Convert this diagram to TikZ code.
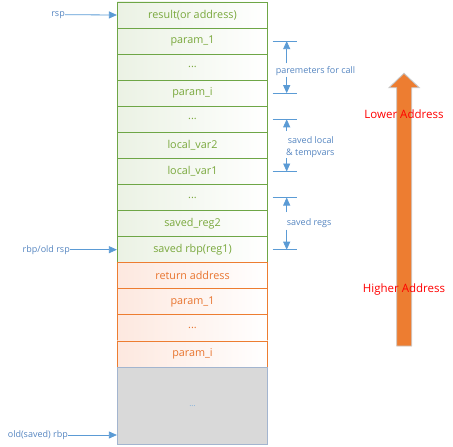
\documentclass[tikz,border=0pt]{standalone}
\usepackage{fontspec}
\setmainfont{Open Sans}
\usetikzlibrary{arrows.meta}
\definecolor{gline}{HTML}{6EA646}
\definecolor{gtext}{HTML}{79A83C}
\definecolor{gfill}{HTML}{EBF2E4}
\definecolor{oline}{HTML}{ED7D31}
\definecolor{otext}{HTML}{E8742E}
\definecolor{ofill}{HTML}{FDE8DF}
\definecolor{bline}{HTML}{5B9BD5}
\definecolor{btext}{HTML}{5585C0}
\definecolor{grayfill}{HTML}{D9D9D9}
\definecolor{grayline}{HTML}{A3B5CF}
\definecolor{bigarrow}{HTML}{ED7D31}
\tikzset{
  row/.style={minimum width=150.4pt, minimum height=26.07pt, inner sep=0pt, font=\fontsize{10.8}{12}\selectfont, line width=0.8pt},
  greenrow/.style={row, draw=gline, text=gtext, left color=gfill, right color=white},
  orangerow/.style={row, draw=oline, text=otext, left color=ofill, right color=white},
  lbl/.style={text=btext, font=\fontsize{9}{10}\selectfont, inner sep=0pt},
  barrow/.style={draw=bline, line width=0.8pt, -{Triangle[length=8pt,width=7pt]}},
  tick/.style={draw=bline, line width=0.8pt},
  redlbl/.style={text=red, font=\fontsize{11.5}{13}\selectfont, inner sep=0pt}
}
\begin{document}
\begin{tikzpicture}[x=1pt,y=-1pt]
\useasboundingbox (0,0) rectangle (453,447);
% green rows
\node[greenrow] (r1) at (192.5,15.0) {result(or address)};
\node[greenrow] (r2) at (192.5,41.1) {param\_1};
\node[greenrow] (r3) at (192.5,67.2) {...};
\node[greenrow] (r4) at (192.5,93.2) {param\_i};
\node[greenrow] (r5) at (192.5,119.3) {...};
\node[greenrow] (r6) at (192.5,145.4) {local\_var2};
\node[greenrow] (r7) at (192.5,171.5) {local\_var1};
\node[greenrow] (r8) at (192.5,197.5) {...};
\node[greenrow] (r9) at (192.5,223.6) {saved\_reg2};
\node[greenrow] (r10) at (192.5,249.7) {saved rbp(reg1)};
% orange rows
\node[orangerow] (r11) at (192.5,275.8) {return address};
\node[orangerow] (r12) at (192.5,301.8) {param\_1};
\node[orangerow] (r13) at (192.5,327.9) {...};
\node[orangerow] (r14) at (192.5,354.0) {param\_i};
% gray block
\node[row, minimum height=77pt, draw=grayline, fill=grayfill, text=bline!80, font=\fontsize{8}{9}\selectfont] (gray) at (192.5,405.6) {...};
% left labels and arrows
\node[lbl, anchor=east] (rsp) at (65,14.7) {rsp};
\draw[barrow] (rsp.east) -- (r1.west);
\node[lbl, anchor=east] (rbp) at (70,249.7) {rbp/old rsp};
\draw[barrow] (rbp.east) -- (r10.west);
\node[lbl, anchor=east] (old) at (68,435) {old(saved) rbp};
\draw[barrow] (old.east) -- (old.east -| gray.west);
% right brackets
\foreach \n/\y in {t1/41.1, b1/93.2, t2/119.3, b2/171.5, t3/197.5, b3/249.7}{
  \coordinate (\n L) at (272.7,\y);
  \coordinate (\n R) at (297.3,\y);
  \coordinate (\n) at (286.7,\y);
  \draw[tick] (\n L) -- (\n R);
}
\node[lbl, anchor=west] (p1) at (275.7,71) {paremeters for call};
\coordinate (p1a) at (286.7,63.3);
\coordinate (p1b) at (286.7,76.7);
\draw[barrow] (p1a) -- (t1);
\draw[barrow] (p1b) -- (b1);
\node[lbl, anchor=west, align=left] (p2) at (286,147.5) {\hspace*{1.7pt}saved local\\[2pt]\& tempvars};
\coordinate (p2a) at (286.7,131);
\coordinate (p2b) at (286.7,158);
\draw[barrow] (p2a) -- (t2);
\draw[barrow] (p2b) -- (b2);
\node[lbl, anchor=west] (p3) at (286.7,222.7) {saved regs};
\coordinate (p3a) at (286.7,212);
\coordinate (p3b) at (286.7,229.5);
\draw[barrow] (p3a) -- (t3);
\draw[barrow] (p3b) -- (b3);
% big orange arrow
\draw[draw=black!22, line width=0.9pt, fill=bigarrow, line join=miter]
  (396.7,346) -- (396.7,87.7) -- (389,87.7) -- (404,73.3) -- (419.3,87.7) -- (411.7,87.7) -- (411.7,346) -- cycle;
\node[redlbl] (low) at (404,114) {Lower Address};
\node[redlbl] (high) at (404,289.3) {Higher Address};
\end{tikzpicture}
\end{document}
